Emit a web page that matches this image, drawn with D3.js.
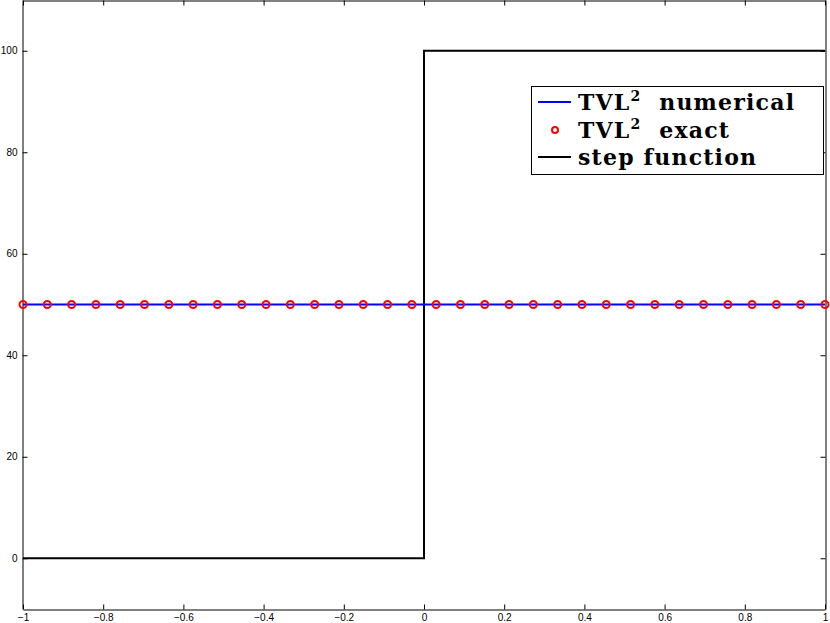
<!DOCTYPE html>
<html>
<head>
<meta charset="utf-8">
<script src="https://cdn.jsdelivr.net/npm/d3@7"></script>
<style>
body { margin: 0; background: #fff; }
svg { display: block; }
</style>
</head>
<body>
<svg width="830" height="623"></svg>
<script>
// Chart data
var xTicks = [-1, -0.8, -0.6, -0.4, -0.2, 0, 0.2, 0.4, 0.6, 0.8, 1];
var yTicks = [0, 20, 40, 60, 80, 100];
var exactX = [-1, -0.9394, -0.8788, -0.8182, -0.7576, -0.6970, -0.6364, -0.5758, -0.5152,
    -0.4545, -0.3939, -0.3333, -0.2727, -0.2121, -0.1515, -0.0909, -0.0303, 0.0303,
    0.0909, 0.1515, 0.2121, 0.2727, 0.3333, 0.3939, 0.4545, 0.5152, 0.5758, 0.6364,
    0.6970, 0.7576, 0.8182, 0.8788, 0.9394, 1];
var exactY = [50, 50, 50, 50, 50, 50, 50, 50, 50, 50, 50, 50, 50, 50, 50, 50, 50, 50,
    50, 50, 50, 50, 50, 50, 50, 50, 50, 50, 50, 50, 50, 50, 50, 50];
var numericalX = [-1, 1];
var numericalY = [50, 50];
var stepX = [-1, 0, 0, 1];
var stepY = [0, 0, 100, 100];
var legendLabels = ["TVL", "TVL", "step function"];

var svg = d3.select("svg");
var mLeft = 23, mRight = 825, mTop = 0, mBottom = 609;

var x = d3.scaleLinear().domain([-1, 1]).range([mLeft, mRight]);
var y = d3.scaleLinear().domain([-10, 110]).range([mBottom, mTop]);

function fmt(d) {
    return d < 0 ? "\u2212" + Math.abs(d) : String(d);
}

// axes box with inward ticks on all four sides
var g = svg.append("g").attr("font-family", "Liberation Sans, Arial, sans-serif").attr("font-size", 10);

g.append("g").attr("transform", "translate(0," + (mBottom + 0.5) + ")")
    .call(d3.axisBottom(x).tickValues(xTicks).tickSizeInner(-5).tickSizeOuter(0).tickPadding(4).tickFormat(fmt));
g.append("g").attr("transform", "translate(0," + (mTop + 0.5) + ")")
    .call(d3.axisTop(x).tickValues(xTicks).tickSizeInner(-5).tickSizeOuter(0).tickFormat(""));
g.append("g").attr("transform", "translate(" + (mLeft - 0.5) + ",0)")
    .call(d3.axisLeft(y).tickValues(yTicks).tickSizeInner(-5).tickSizeOuter(0).tickPadding(5).tickFormat(fmt));
g.append("g").attr("transform", "translate(" + (mRight + 0.5) + ",0)")
    .call(d3.axisRight(y).tickValues(yTicks).tickSizeInner(-5).tickSizeOuter(0).tickFormat(""));

g.selectAll(".domain").attr("stroke", "#000");
g.selectAll(".tick line").attr("stroke", "#000");
g.selectAll(".tick text").attr("fill", "#000");

var line = d3.line().x(function (d) { return x(d[0]); }).y(function (d) { return y(d[1]); });

// step function
svg.append("path")
    .datum(d3.zip(stepX, stepY))
    .attr("d", line)
    .attr("fill", "none")
    .attr("stroke", "#000")
    .attr("stroke-width", 2);

// numerical solution
svg.append("path")
    .datum(d3.zip(numericalX, numericalY))
    .attr("d", line)
    .attr("fill", "none")
    .attr("stroke", "#0000ff")
    .attr("stroke-width", 2);

// exact solution markers
svg.selectAll(".marker")
    .data(d3.zip(exactX, exactY))
    .enter()
    .append("circle")
    .attr("class", "marker")
    .attr("cx", function (d) { return x(d[0]); })
    .attr("cy", function (d) { return y(d[1]); })
    .attr("r", 3.5)
    .attr("fill", "none")
    .attr("stroke", "#ff0000")
    .attr("stroke-width", 2);

// legend
var lg = svg.append("g").attr("transform", "translate(531,86)");
lg.append("rect")
    .attr("x", 0.5).attr("y", 0.5)
    .attr("width", 292).attr("height", 88)
    .attr("fill", "#fff")
    .attr("stroke", "#000");

var rows = [16, 44, 71];
lg.append("line").attr("x1", 7).attr("x2", 40).attr("y1", rows[0]).attr("y2", rows[0])
    .attr("stroke", "#0000ff").attr("stroke-width", 2);
lg.append("circle").attr("cx", 24).attr("cy", rows[1]).attr("r", 3)
    .attr("fill", "none").attr("stroke", "#ff0000").attr("stroke-width", 2);
lg.append("line").attr("x1", 7).attr("x2", 40).attr("y1", rows[2]).attr("y2", rows[2])
    .attr("stroke", "#000").attr("stroke-width", 2);

var suffix = ["  numerical", "  exact", ""];
rows.forEach(function (r, i) {
    var t = lg.append("text")
        .attr("x", 47).attr("y", r + 8)
        .attr("font-family", "DejaVu Serif, serif")
        .attr("font-weight", "bold")
        .attr("font-size", 22)
        .attr("letter-spacing", 1.2)
        .attr("fill", "#000")
        .attr("xml:space", "preserve");
    t.append("tspan").text(legendLabels[i]);
    if (i < 2) {
        t.append("tspan").attr("dy", -9).attr("font-size", 14).text("2");
        t.append("tspan").attr("dy", 9).text(suffix[i]);
    }
});
</script>
</body>
</html>
